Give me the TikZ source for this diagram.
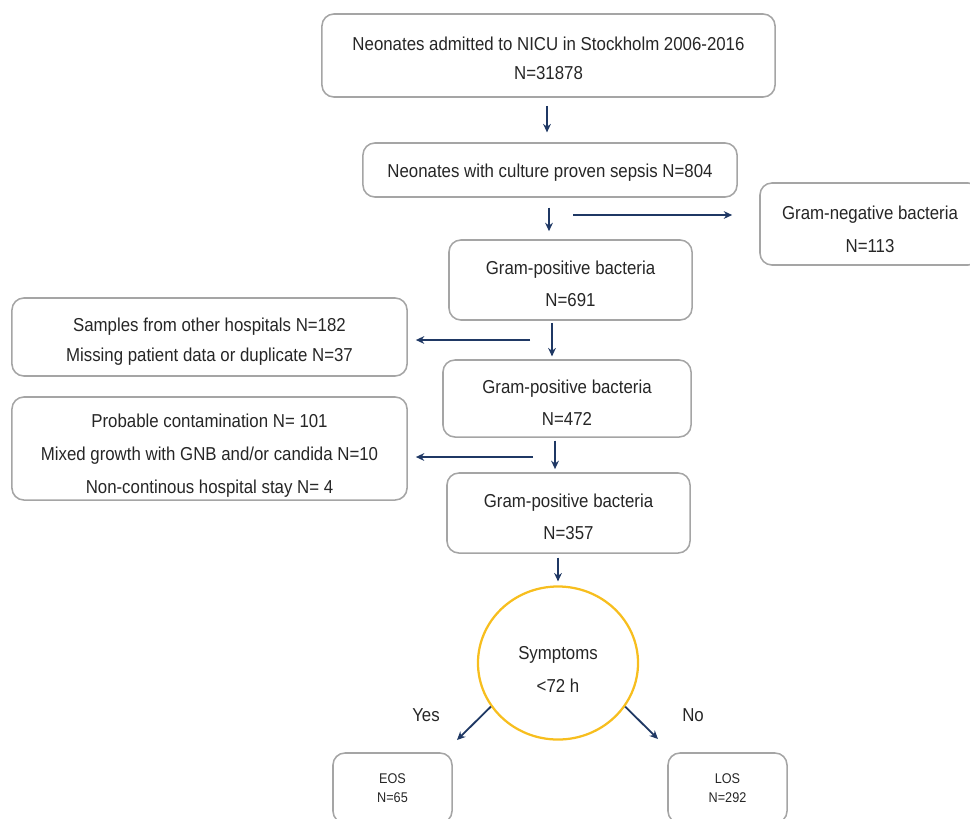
\documentclass[tikz,border=0pt]{standalone}
\usepackage{fontspec}
\setmainfont{Liberation Sans}[FakeStretch=0.9]
\usetikzlibrary{shapes.geometric,arrows.meta,positioning}
\definecolor{boxgrey}{RGB}{165,165,165}
\definecolor{navy}{RGB}{31,56,100}
\definecolor{gold}{RGB}{247,190,30}
\definecolor{txt}{RGB}{38,38,38}
% invisible strut on the first line, to set the text a little lower in its box
\newcommand{\lift}[1]{\rule{0pt}{#1}}

\begin{document}
\begin{tikzpicture}[
    x=0.025cm, y=-0.025cm,
    box/.style ={
        rectangle,
        rounded corners=8.5pt,
        draw=boxgrey,
        line width=1.1pt,
        align=center,
        inner sep=0pt,
        text=txt,
        font=\fontsize{13.3}{21}\selectfont,
    },
    small/.style ={
        box,
        font=\fontsize{10}{14}\selectfont,
    },
    decision/.style ={
        ellipse,
        draw=gold,
        line width=1.6pt,
        align=center,
        inner sep=0pt,
        text=txt,
        minimum width=4cm,
        minimum height=3.825cm,
        font=\fontsize{13.3}{23.3}\selectfont,
    },
    arr/.style ={
        draw=navy,
        line width=1.3pt,
        -{Stealth[length=6pt,width=5.5pt]},
    },
    lbl/.style ={
        text=txt,
        font=\fontsize{13.3}{15}\selectfont,
    }
    ]
    \useasboundingbox (0,0) rectangle (970,818);
    \clip (0,0) rectangle (970,818);

    % main column
    \node[box, minimum width=11.325cm, minimum height=2.075cm] (adm) at (548.5,55.5)
        {\lift{13.3pt}Neonates admitted to NICU in Stockholm 2006-2016\\N=31878};
    \node[box, minimum width=9.35cm, minimum height=1.35cm] (sep) at (550,170)
        {\lift{14pt}Neonates with culture proven sepsis N=804};
    \node[box, font=\fontsize{13.3}{23.3}\selectfont, minimum width=5.5cm, minimum height=2.05cm] (gn) at (870,224)
        {\lift{16.8pt}Gram-negative bacteria\\N=113};
    \node[box, font=\fontsize{13.3}{22.7}\selectfont, minimum width=6.075cm, minimum height=2cm] (gp1) at (570.5,280)
        {\lift{15.3pt}Gram-positive bacteria\\N=691};
    \node[box, minimum width=9.875cm, minimum height=1.95cm] (excl1) at (209.5,337)
        {\lift{16pt}Samples from other hospitals N=182\\Missing patient data or duplicate N=37};
    \node[box, font=\fontsize{13.3}{22.7}\selectfont, minimum width=6.2cm, minimum height=1.925cm] (gp2) at (567,398.5)
        {\lift{15.3pt}Gram-positive bacteria\\N=472};
    \node[box, font=\fontsize{13.3}{23.4}\selectfont, minimum width=9.875cm, minimum height=2.575cm] (excl2) at (209.5,448.5)
        {\lift{19.7pt}Probable contamination N= 101\\Mixed growth with GNB and/or candida N=10\\Non-continous hospital stay N= 4};
    \node[box, font=\fontsize{13.3}{22.7}\selectfont, minimum width=6.075cm, minimum height=2cm] (gp3) at (568.5,513)
        {\lift{15.3pt}Gram-positive bacteria\\N=357};
    \node[decision] (sym) at (558,663) {\lift{18.2pt}Symptoms\\<72 h};
    \node[small, minimum width=2.975cm, minimum height=1.75cm] (eos) at (392.5,788) {EOS\\N=65};
    \node[small, minimum width=2.975cm, minimum height=1.75cm] (los) at (727.5,788) {LOS\\N=292};
    \node[lbl] (yes) at (426,715) {Yes};
    \node[lbl] (no) at (693,715) {No};

    % arrow columns
    \coordinate (c1) at (547,0);
    \coordinate (c2) at (549,0);
    \coordinate (c3) at (552,0);
    \coordinate (c4) at (555,0);
    \coordinate (c5) at (558,0);
    \coordinate (b0) at (573,215);
    \coordinate (b1) at (530,340);
    \coordinate (b2) at (533,457);
    \coordinate (eosin) at (457,740);
    \coordinate (losin) at (658,739);

    \draw[arr, shorten <=5.7pt, shorten >=7pt] (adm.south -| c1) -- (sep.north -| c1);
    \draw[arr, shorten <=7pt, shorten >=5.7pt] (sep.south -| c2) -- (gp1.north -| c2);
    \draw[arr] (b0) -- ([xshift=-0.675cm]b0 -| gn.west);
    \draw[arr, shorten <=1.5pt, shorten >=2pt] (gp1.south -| c3) -- (gp2.north -| c3);
    \draw[arr, shorten >=5.7pt] (b1) -- (b1 -| excl1.east);
    \draw[arr, shorten <=2pt, shorten >=2.2pt] (gp2.south -| c4) -- (gp3.north -| c4);
    \draw[arr, shorten >=5.7pt] (b2) -- (b2 -| excl2.east);
    \draw[arr, shorten <=2.8pt, shorten >=2.8pt] (gp3.south -| c5) -- (sym.north);
    \draw[arr] (sym.213) -- (eosin);
    \draw[arr] (sym.-33) -- (losin);
\end{tikzpicture}
\end{document}
